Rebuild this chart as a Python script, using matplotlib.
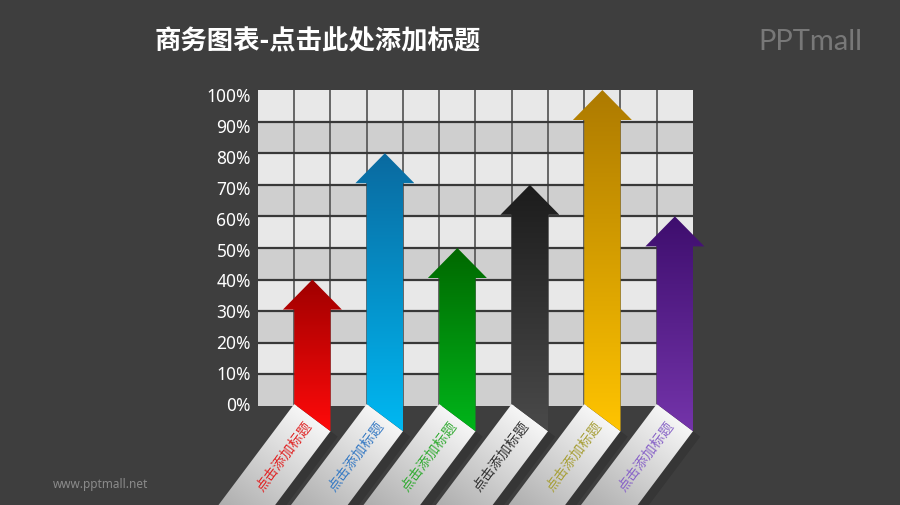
import numpy as np
import matplotlib
matplotlib.use('Agg')
import matplotlib.pyplot as plt
from matplotlib.patches import Polygon
from matplotlib.colors import to_rgb

plt.rcParams['font.family'] = ['Noto Sans CJK SC', 'DejaVu Sans']

title = '商务图表-点击此处添加标题'
values = [40, 80, 50, 70, 100, 60]
columns = [1, 3, 5, 7, 9, 11]
labels = ['点击添加标题'] * 6
top_colors = ['#a00000', '#0a6aa0', '#006800', '#1c1c1c', '#ad7a00', '#3e0e6e']
bottom_colors = ['#ff0a0a', '#00b8f2', '#00b51a', '#4a4a4a', '#ffc400', '#7434aa']
text_colors = ['#e02828', '#3a7cc4', '#36ac36', '#333333', '#a8a03a', '#8a66c8']
ytick_values = [0, 10, 20, 30, 40, 50, 60, 70, 80, 90, 100]
ytick_labels = ['0%', '10%', '20%', '30%', '40%', '50%', '60%', '70%', '80%', '90%', '100%']

BG = '#3e3e3e'
W, H = 900, 506
fig = plt.figure(figsize=(9, 5.06), dpi=100)
fig.patch.set_facecolor(BG)
ax = fig.add_axes([0, 0, 1, 1])
ax.set_facecolor(BG)
ax.axis('off')

# where the grid sits, in pixels from the top-left
gx0, gx1 = 258, 693
gy0, gy1 = 407, 91
ux = (gx1 - gx0) / 12.0   # px per column
uy = (gy0 - gy1) / 100.0  # px per percent
xlim = (-gx0 / ux, (W - gx0) / ux)
ylim = (-(H - gy0) / uy, gy0 / uy)


def dxp(p):
    return p / ux


def dyp(p):
    return p / uy


def grad_fill(xy, c0, c1, p0, direction, length, z):
    xy = np.asarray(xy, dtype=float)
    poly = Polygon(xy, closed=True, fc='none', ec='none', zorder=z)
    ax.add_patch(poly)
    x0, x1 = xy[:, 0].min(), xy[:, 0].max()
    y0, y1 = xy[:, 1].min(), xy[:, 1].max()
    gx, gy = np.meshgrid(np.linspace(x0, x1, 160), np.linspace(y1, y0, 160))
    px = (gx - p0[0]) * ux
    py = (gy - p0[1]) * uy
    t = np.clip((px * direction[0] + py * direction[1]) / length, 0, 1)
    a = np.array(to_rgb(c0))
    b = np.array(to_rgb(c1))
    img = a + (b - a) * t[..., None]
    im = ax.imshow(img, extent=(x0, x1, y0, y1), aspect='auto', origin='upper',
                   zorder=z, interpolation='bilinear')
    im.set_clip_path(poly)


# grid cells
rows = np.arange(10)
ax.barh(rows * 10 + 5, 12, height=10, left=0,
        color=['#cfcfcf' if r % 2 == 0 else '#e8e8e8' for r in rows], zorder=1)
ax.vlines(range(1, 12), 0, 100, color='#5c5c5c', lw=1.3, zorder=2)
ax.hlines(range(10, 100, 10), 0, 12, color='#383838', lw=1.6, zorder=2)

# y labels
for v, lab in zip(ytick_values, ytick_labels):
    ax.text(dxp(-7), 0.3 + v * 0.978, lab, ha='right', va='center', color='white',
            fontsize=12.5, family=['Noto Sans', 'DejaVu Sans'], zorder=5)

# ribbons and arrows
d = np.array([-0.6, -0.8])       # ribbon axis, pixel units, y up
perp = np.array([0.8, -0.6])
rib_w = ux / 0.8
rib_len = 170
hw = dxp(29.5)
hh = dyp(30)
for col, v, ctop, cbot, ctxt, lab in zip(columns, values, top_colors, bottom_colors,
                                          text_colors, labels):
    c = col + 0.5
    yA = dyp(2)
    yB = yA - dyp(ux * 0.75)
    A = np.array([c - 0.5, yA])
    B = np.array([c + 0.5, yB])
    dv = np.array([dxp(d[0] * rib_len), dyp(d[1] * rib_len)])
    sh = np.array([dxp(perp[0] * 9), dyp(perp[1] * 9)])
    shadow = Polygon([A + sh, B + sh, B + sh + dv, A + sh + dv], closed=True,
                     fc='#2a2a2a', ec='none', alpha=0.4, zorder=3)
    ax.add_patch(shadow)
    grad_fill([A, B, B + dv, A + dv], '#f6f6f6', '#a0a0a0', A, d, 150, 4)

    mid = (A + B) / 2
    tc = mid + np.array([dxp(d[0] * 47), dyp(d[1] * 47)])
    ax.text(tc[0], tc[1], lab, rotation=53.13, rotation_mode='anchor', ha='center',
            va='center', fontsize=10, color=ctxt, zorder=6)

    arrow = [(c, v), (c + hw, v - hh), (c + 0.5, v - hh), (c + 0.5, yB),
             (c - 0.5, yA), (c - 0.5, v - hh), (c - hw, v - hh)]
    grad_fill(arrow, ctop, cbot, (c, v), (0, -1), (v - yB) * uy, 5)

ax.set_xlim(*xlim)
ax.set_ylim(*ylim)

fig.text(155 / W, 1 - 42 / H, title, fontsize=19, fontweight='bold', color='white',
         va='center', ha='left')
fig.text(810 / W, 1 - 42 / H, 'PPTmall', fontsize=21, color='#787878', ha='center',
         va='center', family=['Lato', 'DejaVu Sans'])
fig.text(53 / W, 1 - 485 / H, 'www.pptmall.net', fontsize=8.5, color='#8a8a8a',
         va='center', ha='left', family=['Noto Sans', 'DejaVu Sans'])

fig.savefig('out.png', dpi=100, facecolor=fig.get_facecolor())
